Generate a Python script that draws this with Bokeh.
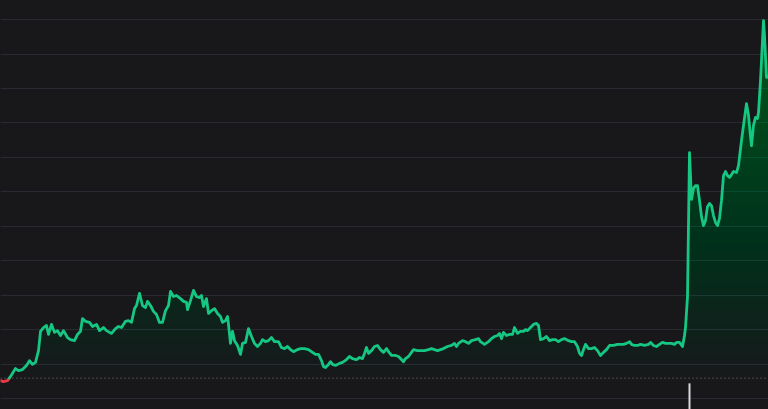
import numpy as np
from bokeh.plotting import figure
from bokeh.models import Range1d, FixedTicker, Span, GlobalInlineStyleSheet
from bokeh.embed import file_html
from bokeh.resources import INLINE

# time index (arbitrary units) and price
t = [0, 3, 7, 10, 15, 18, 22, 26, 29, 32, 35, 38, 40, 43, 46, 48, 51, 54, 57, 60,
     63, 67, 70, 74, 77, 80, 82, 85, 89, 92, 96, 99, 103, 106, 111, 115, 118, 121, 125, 128,
     131, 134, 136, 139, 142, 145, 147, 150, 153, 156, 159, 162, 165, 168, 170, 173, 176, 180, 183, 186,
     187, 190, 193, 196, 199, 201, 203, 206, 208, 211, 214, 217, 220, 222, 225, 227, 228, 230, 232, 234,
     237, 240, 242, 245, 248, 251, 254, 257, 260, 262, 265, 268, 271, 274, 278, 281, 284, 287, 290, 293,
     297, 300, 304, 308, 312, 315, 318, 321, 323, 325, 328, 330, 332, 335, 339, 342, 346, 349, 352, 356,
     359, 362, 364, 366, 368, 371, 374, 377, 380, 383, 386, 388, 391, 395, 398, 401, 403, 405, 408, 411,
     413, 417, 420, 424, 428, 431, 434, 437, 440, 443, 447, 451, 454, 456, 458, 462, 465, 468, 471, 475,
     478, 480, 484, 488, 491, 494, 497, 499, 501, 503, 506, 509, 512, 514, 517, 520, 523, 525, 527, 530,
     533, 536, 538, 540, 543, 546, 549, 552, 555, 558, 561, 564, 568, 571, 574, 577, 579, 581, 583, 585,
     588, 591, 594, 597, 600, 603, 606, 609, 613, 617, 620, 623, 626, 629, 631, 634, 637, 640, 644, 648,
     650, 653, 656, 659, 662, 665, 668, 671, 674, 676, 679, 682, 684, 685, 687, 689, 691, 693, 695, 697,
     699, 701, 703, 705, 707, 709, 711, 713, 715, 717, 719, 721, 723, 725, 727, 729, 731, 733, 736, 738,
     741, 743, 746, 748, 750, 751, 753, 755, 757, 758, 760, 762, 763, 764, 766, 768]

price = [5.2, 4.9, 5.2, 6.4, 8.7, 8.1, 8.4, 9.6, 11.0, 9.9, 10.5, 13.9, 19.5, 20.6, 21.2, 18.6, 21.5, 19.2, 19.7, 18.3,
         19.7, 17.7, 17.1, 16.8, 18.6, 19.5, 23.2, 22.4, 22.1, 20.9, 21.5, 19.7, 20.6, 19.7, 18.9, 20.3, 20.9, 20.6, 22.4, 22.6,
         22.1, 26.1, 27.0, 30.5, 27.0, 26.4, 28.2, 27.0, 25.3, 24.4, 22.1, 22.1, 25.5, 27.0, 31.1, 29.6, 29.9, 29.0, 28.2, 27.9,
         25.8, 28.4, 31.4, 29.6, 29.3, 29.9, 26.7, 29.0, 24.7, 25.5, 26.1, 24.7, 23.8, 22.1, 22.6, 23.8, 21.5, 16.0, 19.5, 16.8,
         15.4, 12.8, 16.0, 16.3, 20.3, 18.0, 16.0, 15.1, 16.0, 17.1, 16.5, 16.8, 17.7, 16.5, 16.5, 14.8, 14.5, 15.1, 14.2, 13.6,
         14.2, 14.5, 14.5, 14.2, 13.4, 12.8, 12.8, 11.0, 9.3, 9.0, 9.9, 10.7, 9.9, 9.6, 10.2, 10.5, 11.3, 12.2, 11.6, 11.3,
         11.9, 11.6, 13.1, 14.8, 13.1, 13.9, 15.1, 15.4, 14.2, 13.4, 14.5, 13.6, 12.5, 12.5, 12.2, 11.3, 10.7, 11.6, 12.2, 13.4,
         14.2, 13.9, 13.9, 13.9, 14.2, 14.5, 14.2, 13.9, 14.2, 14.5, 15.1, 15.4, 16.0, 15.1, 16.0, 16.8, 16.5, 16.0, 16.8, 17.1,
         17.4, 16.5, 15.7, 16.5, 17.4, 18.0, 18.3, 18.9, 17.4, 19.2, 18.3, 18.6, 18.6, 20.6, 18.9, 19.5, 19.5, 20.0, 19.7, 20.6,
         21.5, 21.8, 21.2, 17.1, 17.4, 18.0, 16.8, 17.1, 17.1, 16.5, 17.1, 17.4, 16.8, 16.5, 16.5, 15.1, 13.1, 12.5, 14.2, 15.7,
         14.5, 14.5, 14.8, 13.9, 12.5, 13.4, 14.2, 15.4, 15.4, 15.7, 15.7, 15.7, 16.0, 16.5, 15.7, 15.4, 15.4, 15.7, 15.4, 15.7,
         16.3, 15.4, 15.1, 15.7, 16.3, 16.0, 16.0, 16.0, 15.7, 16.3, 16.3, 15.1, 18.3, 20.6, 29.6, 71.4, 57.8, 61.0, 61.8, 61.8,
         57.5, 52.8, 50.2, 51.7, 55.7, 56.6, 56.0, 53.1, 51.1, 50.2, 52.3, 57.5, 64.7, 65.9, 64.7, 64.2, 65.0, 65.9, 65.6, 67.6,
         74.9, 79.3, 85.6, 82.2, 76.1, 73.4, 79.3, 81.6, 81.3, 83.0, 92.3, 103.9, 109.7, 105.4, 93.2, 93.5]

open_price = 5.9
grid_levels = [0, 10, 20, 30, 40, 50, 60, 70, 80, 90, 100, 110]
event_t = [689]
event_top = [4.4]

UP = "#16c784"
DOWN = "#ea3943"
BG = "#18181b"

Y0, Y1 = -3.19, 115.54

p = figure(width=768, height=409, x_range=Range1d(0, 768), y_range=Range1d(Y0, Y1),
           output_backend="svg", toolbar_location=None, min_border=0,
           background_fill_color=BG, border_fill_color=BG, outline_line_color=None)
p.xaxis.visible = False
p.yaxis.visible = False
p.xgrid.visible = False
p.ygrid.ticker = FixedTicker(ticks=grid_levels)
p.ygrid.grid_line_color = "#2a2a32"
p.ygrid.grid_line_width = 1
p.stylesheets = [GlobalInlineStyleSheet(css="html,body{margin:0;padding:0;background:#18181b;overflow:hidden}")]

ta = np.array(t, dtype=float)
pa = np.array(price, dtype=float)

# linear vertical gradient from the open price (transparent) up to the max (opaque ~0.4),
# built from stacked translucent bands
top_val = pa.max()
top_alpha = 0.40
n_bands = 64
levels = np.linspace(open_price, top_val, n_bands + 1)[:-1]
prev_op = 0.0
for lv in levels:
    target = top_alpha * (lv - open_price + (top_val - open_price) / n_bands) / (top_val - open_price)
    a = 1.0 - (1.0 - target) / (1.0 - prev_op)
    prev_op = target
    p.varea(x=ta, y1=lv, y2=np.maximum(pa, lv), fill_color=UP, fill_alpha=float(a))

p.add_layout(Span(location=open_price, dimension="width", line_color="#7c7c84",
                  line_dash="1 3", line_width=1))

p.segment(x0=event_t, y0=[Y0] * len(event_t), x1=event_t, y1=event_top,
          line_color="#d8d8de", line_width=2)

# split the line into runs above / below the open price
def runs(xs, ys, base):
    out = []
    cx, cy = [xs[0]], [ys[0]]
    cur = ys[0] >= base
    for i in range(1, len(xs)):
        up = ys[i] >= base
        if up != cur:
            f = (base - ys[i - 1]) / (ys[i] - ys[i - 1])
            xc = xs[i - 1] + f * (xs[i] - xs[i - 1])
            cx.append(xc); cy.append(base)
            out.append((cur, cx, cy))
            cx, cy = [xc], [base]
            cur = up
        cx.append(xs[i]); cy.append(ys[i])
    out.append((cur, cx, cy))
    return out

for up, xs, ys in runs(t, price, open_price):
    p.line(xs, ys, line_color=UP if up else DOWN, line_width=2.8,
           line_join="round", line_cap="round")

open("out.html", "w").write(file_html(p, INLINE))
